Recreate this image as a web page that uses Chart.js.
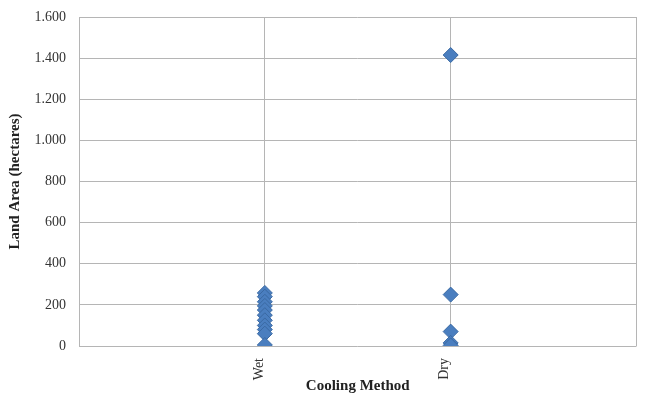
<!DOCTYPE html>
<html>
<head>
<meta charset="utf-8">
<script src="https://cdn.jsdelivr.net/npm/chart.js@4.4.1/dist/chart.umd.min.js"></script>
<style>
  html, body { margin: 0; padding: 0; background: #ffffff; }
  #wrap { width: 645px; height: 397px; position: relative; }
</style>
</head>
<body>
<div id="wrap"><canvas id="c" width="645" height="397"></canvas></div>
<script>
// Cooling method categories and land area per plant (hectares)
const categories = ['Wet', 'Dry'];
const wetArea = [258, 240, 215, 195, 175, 150, 125, 100, 80, 60, 5];
const dryArea = [1415, 250, 70, 15, 3];
const yTickLabels = ['0', '200', '400', '600', '800', '1.000', '1.200', '1.400', '1.600'];

const points = [];
wetArea.forEach(v => points.push({ x: 1, y: v }));
dryArea.forEach(v => points.push({ x: 2, y: v }));

const serif = "'Liberation Serif', 'Times New Roman', serif";
const gridColor = '#b5b5b5';

new Chart(document.getElementById('c'), {
  type: 'scatter',
  data: {
    datasets: [{
      data: points,
      pointStyle: 'rectRot',
      pointRadius: 7.5,
      pointHoverRadius: 7.5,
      backgroundColor: '#4A7EBF',
      borderColor: '#3A69A3',
      borderWidth: 1
    }]
  },
  options: {
    responsive: false,
    animation: false,
    layout: { padding: { top: 17, right: 8, left: 0, bottom: 0 } },
    plugins: { legend: { display: false }, tooltip: { enabled: false } },
    scales: {
      x: {
        type: 'linear',
        min: 0,
        max: 3,
        afterFit: s => {
          s.height = 51;
          s.paddingLeft = 0;
          s.paddingRight = 0;
        },
        afterBuildTicks: s => { s.ticks = [0, 1, 2, 3].map(v => ({ value: v })); },
        grid: { color: gridColor, drawTicks: false, lineWidth: 1 },
        border: { display: false },
        ticks: {
          autoSkip: false,
          minRotation: 90,
          maxRotation: 90,
          padding: 12,
          labelOffset: -6,
          color: '#333333',
          font: { family: serif, size: 14 },
          callback: v => (v >= 1 && v <= categories.length) ? categories[v - 1] : ''
        },
        title: {
          display: true,
          text: 'Cooling Method',
          color: '#222222',
          font: { family: serif, size: 15, weight: 'bold' },
          padding: { top: 0, bottom: 2 }
        }
      },
      y: {
        min: 0,
        max: 1600,
        afterFit: s => {
          s.width = 79;
          s.paddingTop = 0;
          s.paddingBottom = 0;
        },
        afterBuildTicks: s => { s.ticks = yTickLabels.map((t, i) => ({ value: i * 200 })); },
        grid: { color: gridColor, drawTicks: false, lineWidth: 1 },
        border: { display: false },
        ticks: {
          padding: 13,
          color: '#333333',
          font: { family: serif, size: 14 },
          callback: v => yTickLabels[Math.round(v / 200)]
        },
        title: {
          display: true,
          text: 'Land Area (hectares)',
          color: '#222222',
          font: { family: serif, size: 15, weight: 'bold' },
          padding: { top: 6, bottom: 0 }
        }
      }
    }
  }
});
</script>
</body>
</html>
